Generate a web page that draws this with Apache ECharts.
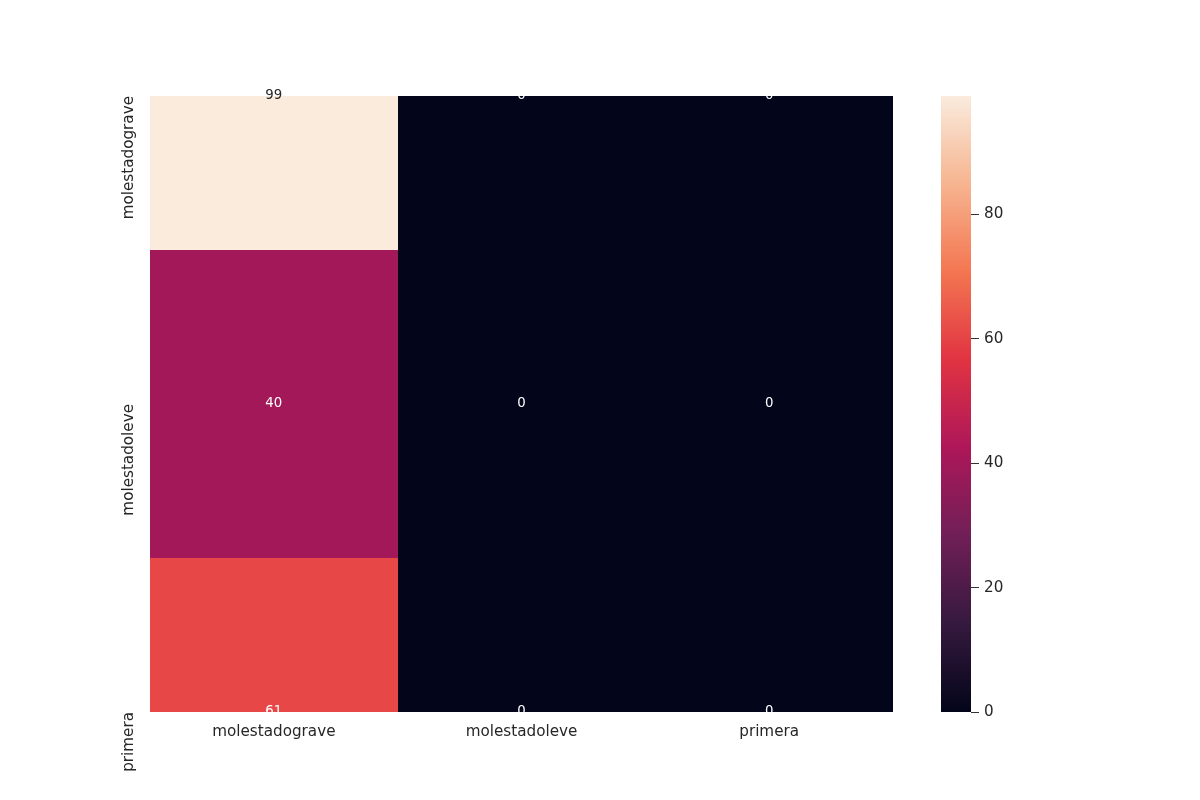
<!DOCTYPE html>
<html>
<head>
<meta charset="utf-8">
<title>Heatmap</title>
<script src="https://cdn.jsdelivr.net/npm/echarts@6/dist/echarts.min.js"></script>
<style>
  html, body { margin: 0; padding: 0; background: #ffffff; }
  #chart { width: 1200px; height: 800px; }
</style>
</head>
<body>
<div id="chart"></div>
<script>
// Row / column categories (same labels on both axes)
const rowLabels = ["molestadograve", "molestadoleve", "primera"];
const colLabels = ["molestadograve", "molestadoleve", "primera"];

// Cell counts, one array per row
const rowGrave = [99, 0, 0];
const rowLeve = [40, 0, 0];
const rowPrimera = [61, 0, 0];
const counts = [rowGrave, rowLeve, rowPrimera];

// Colour scale range
const scaleMin = 0;
const scaleMax = 99;

// "rocket" colormap, evenly spaced stops
const rocket = ["#03051a", "#35193e", "#701f57", "#ad1759", "#e13342", "#f37651", "#f6b48f", "#faebdd"];

const FONT = "DejaVu Sans";
const TEXT = "#262626";

// [col, row, value]
const cells = [];
counts.forEach((row, r) => row.forEach((v, c) => cells.push([c, r, v])));

function renderCell(params, api) {
  const c = api.value(0);
  const r = api.value(1);
  const v = api.value(2);
  const bandW = api.size([1, 0])[0];
  const top = api.coord([c, r - 0.5]);
  const bot = api.coord([c, r + 0.5]);
  const center = api.coord([c, r]);
  // snap edges to whole pixels so neighbouring cells don't leave seams
  const x0 = Math.round(center[0] - bandW / 2);
  const x1 = Math.round(center[0] + bandW / 2);
  const y0 = Math.round(Math.min(top[1], bot[1]));
  const y1 = Math.round(Math.max(top[1], bot[1]));
  const rect = echarts.graphic.clipRectByRect(
    { x: x0, y: y0, width: x1 - x0, height: y1 - y0 },
    { x: params.coordSys.x, y: params.coordSys.y, width: params.coordSys.width, height: params.coordSys.height }
  );
  const children = [];
  if (rect) {
    children.push({ type: "rect", shape: rect, style: { fill: api.visual("color") } });
  }
  // annotation colour depends on cell luminance (light cell -> dark text)
  const light = v / scaleMax > 0.7;
  children.push({
    type: "text",
    z2: 10,
    style: {
      text: String(v),
      x: center[0],
      y: center[1],
      align: "center",
      verticalAlign: "middle",
      fill: light ? TEXT : "#ffffff",
      font: "13.3px " + FONT
    }
  });
  return { type: "group", children: children };
}

function renderColorbar(params, api) {
  const bandW = api.size([1, 0])[0];
  const lo = api.coord([0, api.value(1)]);
  const hi = api.coord([0, api.value(2)]);
  const stops = rocket.map((col, i) => ({ offset: i / (rocket.length - 1), color: col }));
  return {
    type: "rect",
    shape: { x: lo[0] - bandW / 2, y: hi[1], width: bandW, height: lo[1] - hi[1] },
    style: { fill: new echarts.graphic.LinearGradient(0, 1, 0, 0, stops) }
  };
}

const chart = echarts.init(document.getElementById("chart"));

const option = {
  animation: false,
  backgroundColor: "#ffffff",
  textStyle: { fontFamily: FONT },
  grid: [
    { left: 150, top: 96, width: 743, height: 616 },
    { left: 941, top: 96, width: 30, height: 616 }
  ],
  xAxis: [
    {
      gridIndex: 0,
      type: "category",
      data: colLabels,
      boundaryGap: true,
      axisLine: { show: false },
      axisTick: { show: false },
      splitLine: { show: false },
      axisLabel: { color: TEXT, fontSize: 15.2, fontFamily: FONT, margin: 13 }
    },
    {
      gridIndex: 1,
      type: "category",
      data: ["scale"],
      boundaryGap: true,
      show: false
    }
  ],
  yAxis: [
    {
      gridIndex: 0,
      type: "value",
      min: 0,
      max: 2,
      interval: 1,
      inverse: true,
      axisLine: { show: false },
      axisTick: { show: false },
      splitLine: { show: false },
      axisLabel: {
        color: TEXT,
        fontSize: 15.2,
        fontFamily: FONT,
        rotate: 90,
        align: "right",
        verticalAlign: "bottom",
        margin: 13,
        formatter: (v) => rowLabels[v] || ""
      }
    },
    {
      gridIndex: 1,
      type: "value",
      position: "right",
      min: scaleMin,
      max: scaleMax,
      interval: 20,
      axisLine: { show: false },
      axisTick: { show: true, length: 8, lineStyle: { color: "#333333", width: 1 } },
      splitLine: { show: false },
      axisLabel: {
        color: TEXT,
        fontSize: 15.2,
        fontFamily: FONT,
        margin: 13,
        showMaxLabel: false
      }
    }
  ],
  visualMap: {
    show: false,
    type: "continuous",
    seriesIndex: 0,
    dimension: 2,
    min: scaleMin,
    max: scaleMax,
    inRange: { color: rocket }
  },
  series: [
    {
      type: "custom",
      xAxisIndex: 0,
      yAxisIndex: 0,
      renderItem: renderCell,
      data: cells,
      encode: { x: 0, y: 1 }
    },
    {
      type: "custom",
      xAxisIndex: 1,
      yAxisIndex: 1,
      renderItem: renderColorbar,
      data: [[0, scaleMin, scaleMax]],
      encode: { x: 0, y: [1, 2] }
    }
  ]
};

chart.setOption(option);
</script>
</body>
</html>
